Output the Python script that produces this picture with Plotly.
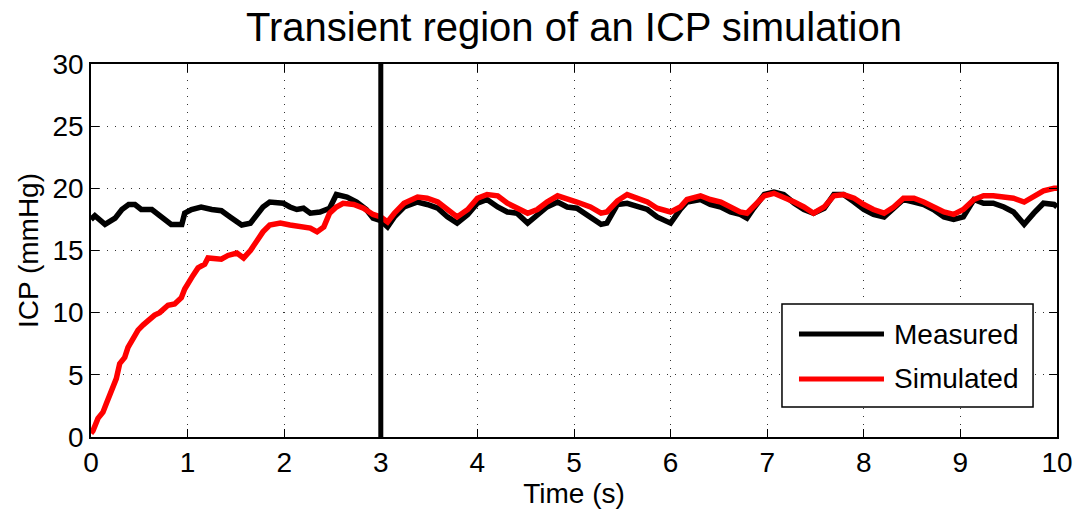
import plotly.graph_objects as go

# ---- data ----
t_measured = [0, 0.04, 0.145, 0.25, 0.32, 0.39, 0.455, 0.52, 0.63, 0.70, 0.77, 0.83, 0.94, 0.97,
              1.04, 1.14, 1.25, 1.35, 1.44, 1.56, 1.65, 1.72, 1.78, 1.85, 1.92, 1.99, 2.06, 2.13,
              2.20, 2.27, 2.37, 2.47, 2.54, 2.65, 2.75, 2.85, 2.92, 3.0, 3.07, 3.14, 3.24, 3.38,
              3.48, 3.59, 3.69, 3.79, 3.9, 4.0, 4.1, 4.21, 4.31, 4.41, 4.52, 4.62, 4.72, 4.83,
              4.93, 5.03, 5.17, 5.28, 5.34, 5.45, 5.55, 5.66, 5.76, 5.86, 6.0, 6.1, 6.17, 6.31,
              6.41, 6.52, 6.62, 6.72, 6.79, 6.86, 6.97, 7.07, 7.17, 7.28, 7.38, 7.48, 7.59, 7.69,
              7.79, 7.9, 8.0, 8.1, 8.21, 8.31, 8.41, 8.52, 8.62, 8.72, 8.83, 8.93, 9.03, 9.14,
              9.24, 9.34, 9.45, 9.55, 9.66, 9.76, 9.86, 9.97, 10.0]
icp_measured = [17.5, 17.8, 17.1, 17.6, 18.3, 18.7, 18.7, 18.3, 18.3, 17.9, 17.5, 17.1, 17.1, 18.0,
                18.3, 18.5, 18.3, 18.2, 17.7, 17.05, 17.2, 18.0, 18.5, 18.9, 18.8, 18.8, 18.5, 18.3,
                18.4, 18.0, 18.1, 18.4, 19.5, 19.3, 18.9, 18.3, 17.6, 17.4, 16.9, 17.7, 18.5, 18.9,
                18.7, 18.4, 17.7, 17.2, 17.9, 18.8, 19.1, 18.5, 18.1, 18.0, 17.2, 17.9, 18.5, 18.9,
                18.5, 18.4, 17.7, 17.1, 17.2, 18.7, 18.8, 18.5, 18.3, 17.7, 17.2, 18.3, 18.9, 19.1,
                18.7, 18.5, 18.1, 17.9, 17.6, 18.4, 19.5, 19.7, 19.5, 18.8, 18.3, 18.0, 18.4, 19.5,
                19.5, 18.9, 18.3, 17.9, 17.7, 18.4, 19.1, 18.9, 18.7, 18.3, 17.7, 17.5, 17.7, 19.1,
                18.8, 18.8, 18.5, 18.1, 17.1, 18.0, 18.8, 18.7, 18.5]

t_simulated = [0, 0.02, 0.072, 0.124, 0.159, 0.193, 0.228, 0.262, 0.297, 0.349, 0.383, 0.435,
               0.487, 0.538, 0.59, 0.659, 0.711, 0.797, 0.866, 0.935, 0.97, 1.004, 1.056, 1.108,
               1.177, 1.211, 1.28, 1.349, 1.418, 1.51, 1.58, 1.65, 1.72, 1.78, 1.85, 1.96, 2.06,
               2.16, 2.27, 2.34, 2.41, 2.47, 2.54, 2.61, 2.72, 2.82, 2.92, 3.0, 3.07, 3.14, 3.24,
               3.38, 3.48, 3.59, 3.69, 3.79, 3.9, 4.0, 4.1, 4.21, 4.31, 4.41, 4.52, 4.62, 4.72,
               4.83, 4.93, 5.03, 5.17, 5.28, 5.34, 5.45, 5.55, 5.66, 5.76, 5.86, 6.0, 6.1, 6.17,
               6.31, 6.41, 6.52, 6.62, 6.72, 6.79, 6.86, 6.97, 7.07, 7.17, 7.28, 7.38, 7.48, 7.59,
               7.69, 7.79, 7.9, 8.0, 8.1, 8.21, 8.31, 8.41, 8.52, 8.62, 8.72, 8.83, 8.93, 9.03,
               9.14, 9.24, 9.34, 9.45, 9.55, 9.66, 9.76, 9.86, 9.97, 10.0]
icp_simulated = [0.3, 0.5, 1.5, 2.0, 2.7, 3.3, 3.9, 4.7, 5.9, 6.4, 7.2, 7.9,
                 8.6, 9.0, 9.4, 9.8, 10.0, 10.6, 10.7, 11.2, 11.9, 12.4, 13.0, 13.6,
                 13.9, 14.4, 14.4, 14.3, 14.6, 14.8, 14.4, 15.0, 15.8, 16.5, 17.05, 17.2, 17.05,
                 16.9, 16.8, 16.5, 16.9, 18.0, 18.5, 18.8, 18.7, 18.4, 17.9, 17.7, 17.3, 18.0, 18.8,
                 19.3, 19.2, 18.9, 18.3, 17.7, 18.3, 19.2, 19.5, 19.4, 18.8, 18.4, 18.0, 18.3, 18.9,
                 19.4, 19.2, 18.9, 18.5, 18.0, 18.1, 19.0, 19.5, 19.2, 18.9, 18.4, 18.1, 18.5, 19.1,
                 19.4, 19.1, 18.9, 18.5, 18.1, 18.0, 18.5, 19.4, 19.6, 19.3, 18.9, 18.5, 18.0, 18.5,
                 19.4, 19.5, 19.2, 18.7, 18.3, 18.0, 18.5, 19.2, 19.2, 18.9, 18.5, 18.1, 17.9, 18.3,
                 19.1, 19.4, 19.4, 19.3, 19.2, 18.9, 19.3, 19.8, 20.0, 20.0]

transient_end = 3.0
y_range = [0, 30]
x_range = [0, 10]
x_ticks = [0, 1, 2, 3, 4, 5, 6, 7, 8, 9, 10]
y_ticks = [0, 5, 10, 15, 20, 25, 30]
series_names = ["Measured", "Simulated"]
series_colors = ["#000000", "#ff0000"]

FONT = "Liberation Sans, Arial, Helvetica, sans-serif"

fig = go.Figure()
fig.add_trace(go.Scatter(x=t_measured, y=icp_measured, mode="lines",
                         line=dict(color=series_colors[0], width=5.5),
                         name=series_names[0], showlegend=False))
fig.add_trace(go.Scatter(x=t_simulated, y=icp_simulated, mode="lines",
                         line=dict(color=series_colors[1], width=5.5),
                         name=series_names[1], showlegend=False))
fig.add_trace(go.Scatter(x=[transient_end, transient_end], y=y_range, mode="lines",
                         line=dict(color="#000000", width=5), showlegend=False,
                         hoverinfo="skip"))

axis_common = dict(
    showline=True, linecolor="black", linewidth=1.5, mirror="ticks",
    ticks="inside", ticklen=8, tickwidth=1.2, tickcolor="black",
    showgrid=True, gridcolor="#333333", gridwidth=1, griddash="1px,7px",
    zeroline=False, automargin=False,
    tickfont=dict(family=FONT, size=28, color="black"),
)

fig.update_xaxes(range=x_range, tickvals=x_ticks, **axis_common,
                 title=dict(text="Time (s)", font=dict(family=FONT, size=28, color="black"),
                            standoff=2))
fig.update_yaxes(range=y_range, tickvals=y_ticks, **axis_common,
                 title=dict(text="ICP (mmHg)", font=dict(family=FONT, size=28, color="black"),
                            standoff=6))

# legend box drawn manually (MATLAB style)
lx0, lx1, ly0, ly1 = 0.7153, 0.9752, 0.0804, 0.3566
fig.add_shape(type="rect", xref="paper", yref="paper", x0=lx0, x1=lx1, y0=ly0, y1=ly1,
              line=dict(color="black", width=1.5), fillcolor="white", layer="above")
for i, (yy) in enumerate([0.2761, 0.1555]):
    fig.add_shape(type="line", xref="paper", yref="paper", x0=0.7329, x1=0.8209, y0=yy, y1=yy,
                  line=dict(color=series_colors[i], width=5), layer="above")
    fig.add_annotation(xref="paper", yref="paper", x=0.8302, y=yy, text=series_names[i],
                       showarrow=False, xanchor="left", yanchor="middle", borderpad=0,
                       font=dict(family=FONT, size=28, color="black"))

fig.update_layout(
    width=1074, height=511,
    margin=dict(l=91, r=17, t=64, b=74),
    paper_bgcolor="white", plot_bgcolor="white",
    title=dict(text="Transient region of an ICP simulation", x=0.5, xanchor="center",
               xref="paper",
               y=1 - 27 / 511, yanchor="middle", yref="container",
               font=dict(family=FONT, size=40, color="black")),
    showlegend=False,
)

fig.write_html("out.html")
